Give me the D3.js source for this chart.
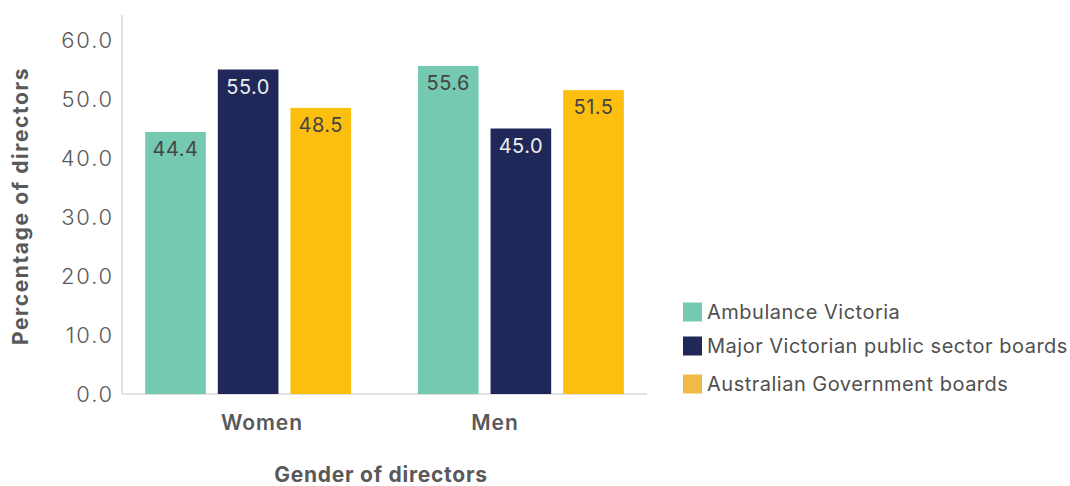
<!DOCTYPE html>
<html><head><meta charset="utf-8">
<script src="https://cdn.jsdelivr.net/npm/d3@7"></script>
<style>body{margin:0;background:#fff}svg{display:block}text{font-family:Inter,"Open Sans",sans-serif}</style>
</head><body><svg id="c" width="1070" height="486"></svg>
<script>
const categories = ["Women", "Men"];
const seriesNames = ["Ambulance Victoria", "Major Victorian public sector boards", "Australian Government boards"];
const ambulanceVictoria = [44.4, 55.6];
const majorVictorianBoards = [55.0, 45.0];
const australianGovBoards = [48.5, 51.5];
const yTicks = [0, 10, 20, 30, 40, 50, 60];
const barColors = ["#75C9B0", "#20285A", "#FCBF10"];
const legendColors = ["#75C9B0", "#20285A", "#F0BA48"];
const labelColors = ["#444444", "#EEEEEE", "#444444"];

(function () {
const series = [ambulanceVictoria, majorVictorianBoards, australianGovBoards];
const svg = d3.select("#c");
const mLeft = 122, mRight = 647, mTop = 15, mBottom = 394;

const y = d3.scaleLinear().domain([0, 60]).range([mBottom, 40]);
const x0 = d3.scaleBand().domain(categories).range([mLeft, mRight]).paddingInner(0.245).paddingOuter(0.085);
const x1 = d3.scaleBand().domain(d3.range(series.length)).range([0, x0.bandwidth()]).paddingInner(0.165).paddingOuter(0);
const xLabel = d3.scalePoint().domain(categories).range([262, 495]);

svg.append("line").attr("x1", mLeft).attr("x2", mLeft).attr("y1", mTop).attr("y2", mBottom)
  .attr("stroke", "#d9d9d9").attr("stroke-width", 1.5);
svg.append("line").attr("x1", mLeft).attr("x2", mRight).attr("y1", mBottom).attr("y2", mBottom)
  .attr("stroke", "#d9d9d9").attr("stroke-width", 1.5);

const yAxis = d3.axisLeft(y).tickValues(yTicks).tickFormat(d3.format(".1f")).tickSize(0).tickPadding(8);
const ga = svg.append("g").attr("transform", `translate(${mLeft},0)`).call(yAxis);
ga.select(".domain").remove();
ga.selectAll("text").attr("font-size", 22).attr("fill", "#595959").attr("font-family", "Inter, sans-serif")
  .attr("font-weight", 300).attr("letter-spacing", 1.8);

categories.forEach((cat, ci) => {
  const g = svg.append("g").attr("transform", `translate(${x0(cat)},0)`);
  series.forEach((s, si) => {
    const v = s[ci];
    g.append("rect").attr("x", x1(si)).attr("width", x1.bandwidth())
      .attr("y", y(v)).attr("height", y(0) - y(v)).attr("fill", barColors[si]);
    g.append("text").attr("x", x1(si) + x1.bandwidth() / 2).attr("y", y(v) + 17)
      .attr("dy", "0.35em").attr("text-anchor", "middle").attr("font-size", 20).attr("letter-spacing", 0.5)
      .attr("fill", labelColors[si]).text(d3.format(".1f")(v));
  });
});

svg.selectAll(".cat").data(categories).join("text")
  .attr("x", d => xLabel(d)).attr("y", 423).attr("dy", "0.35em").attr("text-anchor", "middle")
  .attr("font-size", 21).attr("font-weight", 600).attr("letter-spacing", 0.9).attr("fill", "#595959").text(d => d);

svg.append("text").attr("x", (mLeft + 640) / 2).attr("y", 475).attr("dy", "0.35em").attr("text-anchor", "middle")
  .attr("font-size", 21).attr("font-weight", 700).attr("letter-spacing", 0.75).attr("fill", "#595959").text("Gender of directors");
svg.append("text").attr("transform", "translate(21,206) rotate(-90)").attr("dy", "0.35em").attr("text-anchor", "middle")
  .attr("font-size", 21).attr("font-weight", 700).attr("letter-spacing", 1.6).attr("fill", "#595959").text("Percentage of directors");

const legY = [312, 346, 384];
const lg = svg.append("g");
seriesNames.forEach((n, i) => {
  lg.append("rect").attr("x", 683).attr("y", legY[i] - 9.5).attr("width", 19).attr("height", 19).attr("fill", legendColors[i]);
  lg.append("text").attr("x", 707).attr("y", legY[i]).attr("dy", "0.35em").attr("font-size", 20).attr("letter-spacing", 0.5)
    .attr("fill", "#505050").text(n);
});
})();
</script></body></html>
